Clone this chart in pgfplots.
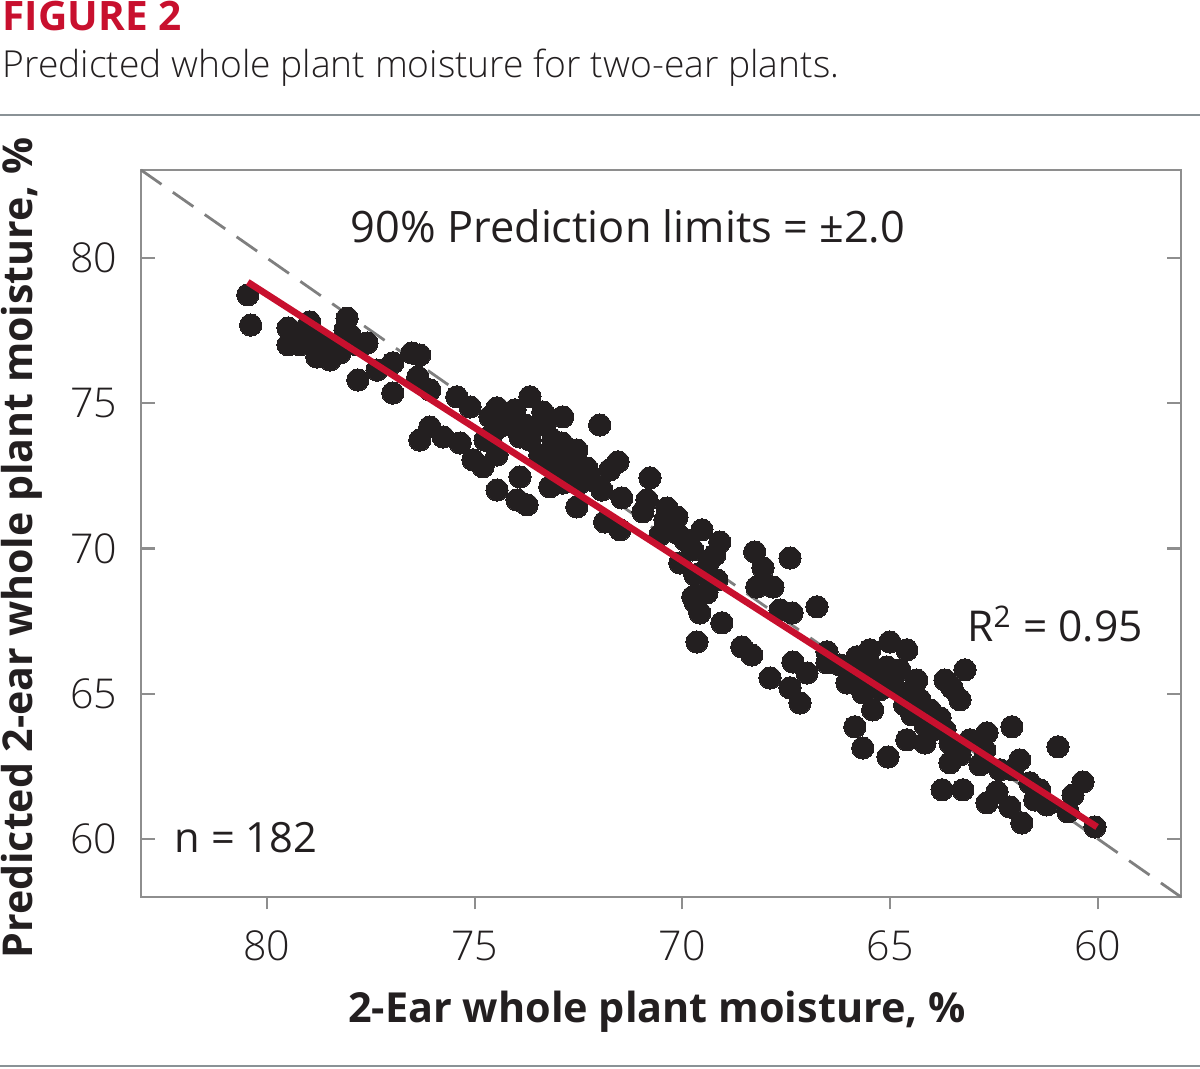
\documentclass[border=0pt]{standalone}
\usepackage{fontspec}
\setmainfont{Open Sans}
\newfontfamily\lightfont{Open Sans Light}
\newcommand\heavyfont{\bfseries}
\usepackage{pgfplots}
\pgfplotsset{compat=1.18}

\definecolor{figred}{HTML}{C8102E}
\definecolor{inkdark}{HTML}{231F20}
\definecolor{axisgray}{HTML}{8E8E8E}
\definecolor{rulegray}{HTML}{8A9296}
\definecolor{dashgray}{HTML}{7F7F7F}

% observed vs. predicted whole plant moisture (%), two-ear plants
\pgfplotstableread{
obs pred
80.46 78.73
80.39 77.69
79.49 77.59
79.49 77.01
78.97 77.80
78.97 77.07
78.80 76.59
78.48 76.49
78.07 77.93
78.12 77.52
78.24 76.73
77.59 77.07
77.81 75.80
77.35 76.14
76.97 76.39
76.97 75.35
76.51 76.73
76.32 76.66
76.37 75.90
76.08 75.46
75.43 75.22
75.11 74.87
76.08 74.18
76.32 73.73
75.76 73.84
75.35 73.63
75.04 73.05
79.21 77.25
78.56 76.90
77.83 77.01
74.80 72.81
74.63 74.53
74.56 73.98
74.46 73.22
74.46 74.84
74.15 74.66
73.98 74.32
73.91 73.84
73.67 75.22
73.67 73.73
73.36 74.70
73.91 72.46
74.46 72.01
73.98 71.67
73.74 71.50
73.12 73.73
73.12 73.29
72.54 73.39
73.12 72.81
72.71 72.94
72.30 72.77
73.19 72.12
72.88 72.25
72.47 72.25
71.94 72.01
72.54 71.43
72.88 74.53
71.99 74.25
72.90 73.63
71.55 72.98
71.46 71.74
71.87 70.91
71.50 70.64
70.78 72.43
70.85 71.67
70.95 71.26
70.37 71.39
70.13 71.08
70.54 70.46
70.13 70.53
69.53 70.64
69.75 69.95
69.10 70.22
70.06 69.50
69.53 69.16
69.17 68.92
68.26 69.88
67.41 69.67
68.06 69.33
67.82 68.67
68.21 68.67
69.75 68.33
69.41 68.47
69.70 68.16
69.58 67.78
69.05 67.44
69.65 66.78
68.57 66.61
68.33 66.33
67.65 67.88
67.36 67.78
66.76 67.99
67.89 65.54
67.34 66.09
67.00 65.71
67.41 65.20
67.17 64.68
66.52 66.44
66.52 66.06
66.04 65.92
65.80 66.27
65.49 66.51
65.01 66.78
65.08 65.92
66.04 65.37
65.66 65.03
64.93 65.37
65.42 64.44
64.60 66.51
64.60 65.03
64.36 65.47
63.68 65.47
63.20 65.82
63.51 65.20
65.85 63.86
65.66 63.13
65.05 62.82
64.48 64.27
64.04 64.44
63.80 64.17
63.97 63.75
64.60 63.41
64.16 63.30
63.56 63.30
63.08 63.41
62.67 63.65
62.07 63.86
63.56 62.62
62.84 62.55
62.05 62.38
61.64 61.93
63.75 61.69
63.25 61.69
62.43 61.62
60.96 63.17
62.67 61.24
62.12 61.10
61.83 60.55
61.23 61.17
60.72 60.93
60.60 61.51
60.36 61.96
60.07 60.41
79.21 77.01
78.72 77.18
78.36 76.83
78.00 77.35
79.09 77.52
74.51 74.42
74.27 74.25
74.75 73.73
74.03 74.77
73.79 74.25
73.31 74.25
73.43 73.22
72.95 72.70
72.59 72.70
72.83 73.22
72.23 72.36
71.75 72.70
70.42 70.98
69.94 70.29
69.34 69.60
69.70 69.09
69.22 69.78
66.21 65.99
65.85 65.65
65.49 65.99
65.25 65.13
64.77 65.82
65.37 65.47
64.28 64.79
64.65 64.61
64.16 63.92
63.68 63.75
63.32 62.89
62.36 62.38
61.88 62.72
61.52 61.34
63.32 64.79
62.72 63.06
61.40 61.69
}\moisture

\begin{document}
\begin{tikzpicture}[x=1pt,y=1pt]
\path[use as bounding box] (0,0) rectangle (432,384.84);

% heading
\node[anchor=base west, inner sep=0pt, text=figred,
      font=\heavyfont\fontsize{14.6}{17}\selectfont] at (0.72,373.68) {FIGURE 2};
\node[anchor=base west, inner sep=0pt, text=inkdark,
      font=\lightfont\fontsize{13.4}{16}\selectfont] at (0.72,356.76)
      {Predicted whole plant moisture for two-ear plants.};
\draw[rulegray, line width=1pt] (0,343.44) -- (432,343.44);
\draw[rulegray, line width=1pt] (0,1.08) -- (432,1.08);

\begin{axis}[
  at={(50.76pt,61.92pt)}, anchor=south west,
  scale only axis, width=374.4pt, height=261.72pt,
  x dir=reverse,
  xmin=58, xmax=83.03, ymin=58, ymax=83.03,
  xtick={60,65,70,75,80}, ytick={60,65,70,75,80},
  xtick pos=bottom, ytick pos=both,
  tick align=inside, major tick length=5pt,
  major x tick style={yshift=-4.5pt},
  tick style={axisgray, line width=0.8pt},
  axis line style={axisgray, line width=0.8pt},
  /pgf/number format/assume math mode=true,
  ticklabel style={font=\lightfont\fontsize{14.8}{17}\selectfont, text=inkdark, inner sep=0pt},
  yticklabel style={xshift=-8.3pt},
  xticklabel style={yshift=-12pt},
  clip=false,
  clip marker paths=true,
]
% 1:1 reference line
\addplot[dashgray, line width=1pt, dash pattern=on 9pt off 5pt] coordinates {(83.03,83.03) (58,58)};
% observations
\addplot[only marks, mark=*, mark size=4pt, mark options={fill=inkdark, draw=inkdark, line width=0pt}]
  table[x=obs, y=pred] {\moisture};
% fitted regression line
\addplot[figred, line width=2.4pt] coordinates {(80.46,79.17) (60.02,60.41)};

\node[font=\fontsize{15.6}{18}\selectfont, text=inkdark] at (axis cs:71.31,81.10) {90\% Prediction limits = ±2.0};
\node[font=\fontsize{15.3}{18}\selectfont, text=inkdark] at (axis cs:61.03,67.40) {R\textsuperscript{2} = 0.95};
\node[font=\fontsize{15}{18}\selectfont, text=inkdark] at (axis cs:80.50,60.03) {n = 182};
\end{axis}

% axis titles
\node[font=\heavyfont\fontsize{14.9}{17}\selectfont, text=inkdark] at (236.5,20.5)
  {2-Ear whole plant moisture, \%};
\node[font=\heavyfont\fontsize{14.8}{17}\selectfont, text=inkdark, rotate=90] at (7.92,187.56)
  {Predicted 2-ear whole plant moisture, \%};
\end{tikzpicture}
\end{document}
